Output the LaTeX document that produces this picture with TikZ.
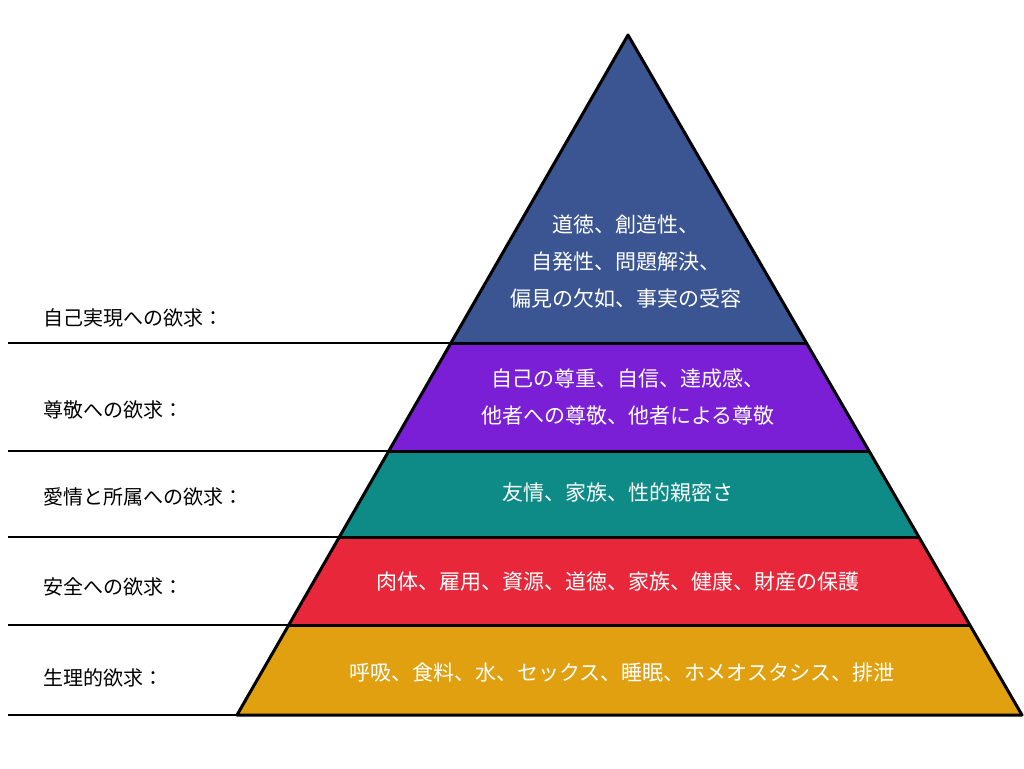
\documentclass[tikz,border=0pt]{standalone}
\usepackage{fontspec}
\newfontfamily\cjk{Noto Sans CJK JP}
\begin{document}
\begin{tikzpicture}[x=1pt,y=-1pt,
 band/.style={draw=black,line width=3pt,line join=round},
 wt/.style={text=white,font=\cjk\fontsize{21}{37}\selectfont,align=center},
 lb/.style={anchor=west,font=\cjk\fontsize{20}{24}\selectfont},
 rule/.style={line width=1.2pt}]
\useasboundingbox (0,0) rectangle (1024,768);
\definecolor{c1}{HTML}{3B5592}\definecolor{c2}{HTML}{7A1FD6}\definecolor{c3}{HTML}{0E8A87}
\definecolor{c4}{HTML}{E8283A}\definecolor{c5}{HTML}{E0A010}
\coordinate (A) at (628,35);
\coordinate (L1) at (451,343);\coordinate (R1) at (806,343);
\coordinate (L2) at (389,451);\coordinate (R2) at (869,451);
\coordinate (L3) at (339,537);\coordinate (R3) at (919,537);
\coordinate (L4) at (289,625);\coordinate (R4) at (970,625);
\coordinate (L5) at (237,715);\coordinate (R5) at (1022,715);
\fill[c1] (A)--(R1)--(L1)--cycle;
\fill[c2] (L1)--(R1)--(R2)--(L2)--cycle;
\fill[c3] (L2)--(R2)--(R3)--(L3)--cycle;
\fill[c4] (L3)--(R3)--(R4)--(L4)--cycle;
\fill[c5] (L4)--(R4)--(R5)--(L5)--cycle;
\draw[band] (L1)--(R1) (L2)--(R2) (L3)--(R3) (L4)--(R4);
\draw[band] (A)--(R5)--(L5)--cycle;
\coordinate (E1) at (8,343);\coordinate (E2) at (8,451);\coordinate (E3) at (8,537);
\coordinate (E4) at (8,625);\coordinate (E5) at (8,715);
\draw[rule] (E1)--(L1) (E2)--(L2) (E3)--(L3) (E4)--(L4) (E5)--(L5);
\node[wt] (t1) at (626,262) {道徳、創造性、\\自発性、問題解決、\\偏見の欠如、事実の受容};
\node[wt] (t2) at (628,397) {自己の尊重、自信、達成感、\\他者への尊敬、他者による尊敬};
\node[wt] (t3) at (618,493) {友情、家族、性的親密さ};
\node[wt] (t4) at (618,582) {肉体、雇用、資源、道徳、家族、健康、財産の保護};
\node[wt] (t5) at (622,673) {呼吸、食料、水、セックス、睡眠、ホメオスタシス、排泄};
\node[lb] (l1) at (40,318) {自己実現への欲求：};
\node[lb] (l2) at (40,410) {尊敬への欲求：};
\node[lb] (l3) at (40,497) {愛情と所属への欲求：};
\node[lb] (l4) at (40,587) {安全への欲求：};
\node[lb] (l5) at (40,678) {生理的欲求：};
\end{tikzpicture}
\end{document}
